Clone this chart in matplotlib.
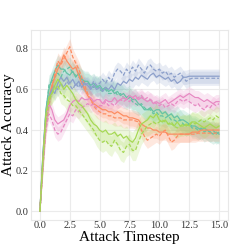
import matplotlib
matplotlib.use('Agg')
import matplotlib.pyplot as plt
import numpy as np

# accuracy per timestep, sampled every 0.25 step from 0 to 15
step = 0.25

teal_solid = [0, 0.28, 0.50, 0.60, 0.65, 0.69, 0.72, 0.70, 0.70, 0.68, 0.67, 0.69, 0.66,
              0.68, 0.65, 0.64, 0.64, 0.62, 0.63, 0.61, 0.62, 0.60, 0.61, 0.59, 0.60,
              0.58, 0.59, 0.57, 0.58, 0.56, 0.57, 0.55, 0.55, 0.53, 0.52, 0.50, 0.50,
              0.51, 0.49, 0.50, 0.50, 0.48, 0.49, 0.47, 0.48, 0.46, 0.47, 0.45, 0.45,
              0.44, 0.43, 0.42, 0.42, 0.41, 0.40, 0.41, 0.40, 0.39, 0.38, 0.39, 0.38]
teal_dashed = [0, 0.25, 0.48, 0.62, 0.64, 0.66, 0.68, 0.66, 0.69, 0.70, 0.71, 0.68, 0.67,
               0.66, 0.65, 0.63, 0.63, 0.62, 0.61, 0.62, 0.60, 0.59, 0.60, 0.58, 0.58,
               0.60, 0.57, 0.58, 0.56, 0.55, 0.56, 0.54, 0.53, 0.52, 0.53, 0.51, 0.50,
               0.50, 0.48, 0.49, 0.47, 0.47, 0.46, 0.47, 0.45, 0.45, 0.44, 0.45, 0.43,
               0.42, 0.43, 0.41, 0.41, 0.40, 0.41, 0.39, 0.40, 0.39, 0.40, 0.38, 0.39]
orange_solid = [0, 0.25, 0.45, 0.55, 0.62, 0.66, 0.70, 0.73, 0.77, 0.74, 0.72, 0.70, 0.71,
                0.67, 0.63, 0.60, 0.57, 0.55, 0.53, 0.52, 0.51, 0.50, 0.50, 0.49, 0.49,
                0.48, 0.49, 0.48, 0.47, 0.47, 0.46, 0.46, 0.455, 0.45, 0.43, 0.42, 0.41,
                0.41, 0.40, 0.40, 0.39, 0.39, 0.39, 0.38, 0.38, 0.38, 0.38, 0.38, 0.38,
                0.38, 0.38, 0.39, 0.39, 0.39, 0.40, 0.40, 0.40, 0.40, 0.40, 0.40, 0.40]
orange_dashed = [0, 0.22, 0.42, 0.52, 0.60, 0.68, 0.74, 0.72, 0.75, 0.78, 0.81, 0.76, 0.73,
                 0.70, 0.66, 0.62, 0.58, 0.55, 0.52, 0.50, 0.49, 0.48, 0.48, 0.47, 0.47,
                 0.46, 0.46, 0.46, 0.45, 0.45, 0.45, 0.45, 0.445, 0.44, 0.40, 0.37, 0.35,
                 0.36, 0.37, 0.38, 0.37, 0.39, 0.40, 0.37, 0.34, 0.35, 0.37, 0.38, 0.38,
                 0.38, 0.38, 0.38, 0.38, 0.385, 0.385, 0.385, 0.385, 0.385, 0.385, 0.385, 0.385]
blue_solid = [0, 0.28, 0.48, 0.56, 0.60, 0.58, 0.63, 0.66, 0.64, 0.66, 0.63, 0.65, 0.62,
              0.64, 0.61, 0.63, 0.62, 0.60, 0.62, 0.60, 0.61, 0.59, 0.61, 0.60, 0.62,
              0.60, 0.63, 0.62, 0.64, 0.63, 0.65, 0.64, 0.66, 0.65, 0.67, 0.66, 0.65,
              0.67, 0.68, 0.66, 0.67, 0.66, 0.65, 0.66, 0.64, 0.65, 0.63, 0.64, 0.66,
              0.66, 0.665, 0.665, 0.665, 0.665, 0.665, 0.665, 0.665, 0.665, 0.665, 0.665, 0.665]
blue_dashed = [0, 0.25, 0.45, 0.55, 0.60, 0.62, 0.60, 0.63, 0.61, 0.64, 0.62, 0.60, 0.63,
               0.61, 0.64, 0.62, 0.63, 0.61, 0.64, 0.62, 0.63, 0.65, 0.63, 0.66, 0.64,
               0.68, 0.70, 0.69, 0.67, 0.70, 0.68, 0.71, 0.69, 0.72, 0.70, 0.68, 0.71,
               0.72, 0.70, 0.69, 0.70, 0.68, 0.69, 0.67, 0.68, 0.66, 0.67, 0.68, 0.66,
               0.64, 0.65, 0.655, 0.655, 0.655, 0.655, 0.655, 0.655, 0.655, 0.655, 0.655, 0.655]
pink_solid = [0, 0.25, 0.45, 0.53, 0.50, 0.45, 0.43, 0.44, 0.45, 0.48, 0.52, 0.54, 0.55,
              0.54, 0.56, 0.55, 0.55, 0.56, 0.54, 0.55, 0.55, 0.53, 0.55, 0.54, 0.54,
              0.56, 0.54, 0.55, 0.56, 0.55, 0.57, 0.56, 0.57, 0.55, 0.56, 0.55, 0.54,
              0.55, 0.53, 0.54, 0.53, 0.54, 0.55, 0.53, 0.54, 0.55, 0.56, 0.57, 0.56,
              0.57, 0.58, 0.57, 0.56, 0.56, 0.55, 0.54, 0.55, 0.54, 0.53, 0.54, 0.54]
pink_dashed = [0, 0.22, 0.40, 0.48, 0.45, 0.40, 0.38, 0.39, 0.42, 0.45, 0.48, 0.47, 0.50,
               0.49, 0.51, 0.52, 0.53, 0.52, 0.53, 0.51, 0.52, 0.52, 0.54, 0.52, 0.53,
               0.52, 0.54, 0.55, 0.54, 0.55, 0.54, 0.56, 0.55, 0.56, 0.57, 0.55, 0.56,
               0.55, 0.54, 0.53, 0.52, 0.53, 0.51, 0.52, 0.53, 0.52, 0.54, 0.55, 0.54,
               0.55, 0.54, 0.53, 0.52, 0.53, 0.51, 0.50, 0.52, 0.51, 0.53, 0.52, 0.53]
green_solid = [0, 0.26, 0.48, 0.56, 0.58, 0.62, 0.65, 0.63, 0.60, 0.62, 0.60, 0.58, 0.55,
               0.53, 0.52, 0.50, 0.48, 0.45, 0.43, 0.42, 0.40, 0.39, 0.40, 0.38, 0.38,
               0.39, 0.37, 0.38, 0.36, 0.37, 0.35, 0.34, 0.36, 0.40, 0.43, 0.44, 0.45,
               0.47, 0.46, 0.48, 0.45, 0.44, 0.45, 0.43, 0.43, 0.42, 0.44, 0.42, 0.42,
               0.43, 0.42, 0.44, 0.44, 0.43, 0.42, 0.41, 0.42, 0.43, 0.42, 0.41, 0.42]
green_dashed = [0, 0.24, 0.45, 0.54, 0.58, 0.60, 0.62, 0.58, 0.57, 0.55, 0.54, 0.52, 0.52,
                0.50, 0.48, 0.46, 0.44, 0.42, 0.40, 0.37, 0.35, 0.34, 0.35, 0.33, 0.32,
                0.35, 0.33, 0.30, 0.29, 0.32, 0.33, 0.30, 0.30, 0.34, 0.38, 0.40, 0.42,
                0.43, 0.44, 0.43, 0.44, 0.45, 0.44, 0.43, 0.44, 0.42, 0.41, 0.42, 0.43,
                0.42, 0.43, 0.44, 0.43, 0.44, 0.45, 0.44, 0.45, 0.46, 0.45, 0.47, 0.46]

# spread of the shaded band for each colour
spreads = [0.05, 0.04, 0.035, 0.035, 0.05]
colors = ['#66c2a5', '#fc8d62', '#8da0cb', '#e78ac3', '#a6d854']
series = [(teal_solid, teal_dashed), (orange_solid, orange_dashed),
          (blue_solid, blue_dashed), (pink_solid, pink_dashed),
          (green_solid, green_dashed)]

plt.rcParams['font.family'] = ['Liberation Serif', 'DejaVu Serif']

fig = plt.figure(figsize=(2.4, 2.52), dpi=100)
ax = fig.add_axes([0.129, 0.127, 0.821, 0.754])

for (solid, dashed), color, spread in zip(series, colors, spreads):
    for vals, ls in ((solid, '-'), (dashed, '--')):
        y = np.array(vals)
        x = np.arange(len(y)) * step
        ax.fill_between(x, np.maximum(y - spread, 0), y + spread, color=color,
                        alpha=0.2, linewidth=0)
        ax.plot(x, y, color=color, linestyle=ls, linewidth=0.9,
                dashes=(3, 1.5) if ls == '--' else (None, None))

ax.set_xticks([0, 2.5, 5, 7.5, 10, 12.5, 15])
ax.set_xticklabels(['0.0', '2.5', '5.0', '7.5', '10.0', '12.5', '15.0'])
ax.set_yticks([0, 0.2, 0.4, 0.6, 0.8])
ax.set_yticklabels(['0.0', '0.2', '0.4', '0.6', '0.8'])
ax.tick_params(length=0, labelsize=7.5, pad=2, colors='#333333')
ax.tick_params(axis='x', pad=1)
ax.grid(True, color='#ebebeb', linewidth=0.8)
ax.set_axisbelow(True)
for s in ax.spines.values():
    s.set_color('#e8e8e8')
    s.set_linewidth(0.8)

ax.set_xlabel('Attack Timestep', fontsize=11)
ax.set_ylabel('Attack Accuracy', fontsize=11)
ax.xaxis.set_label_coords(0.5, -0.06)
ax.yaxis.set_label_coords(-0.082, 0.5)

fig.savefig('out.png', dpi=100)
